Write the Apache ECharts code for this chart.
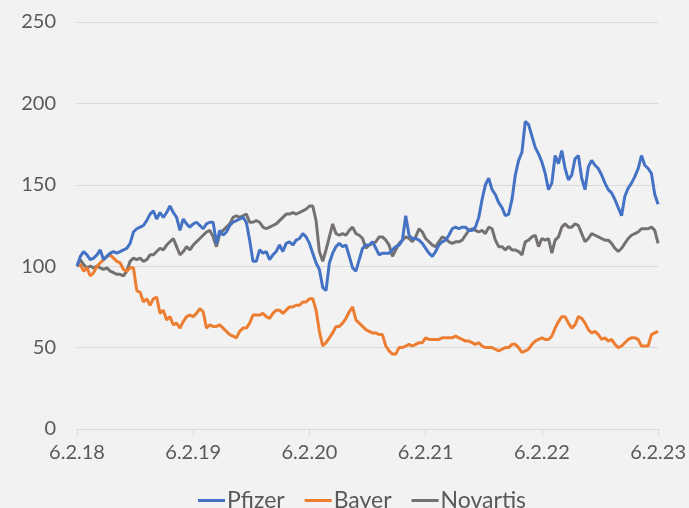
<!DOCTYPE html>
<html>
<head>
<meta charset="utf-8">
<script src="https://cdn.jsdelivr.net/npm/echarts@6/dist/echarts.min.js"></script>
<style>
html,body{margin:0;padding:0;background:#f2f2f2;}
#c{width:689px;height:508px;}
</style>
</head>
<body>
<div id="c"></div>
<script>
// Tick labels of the time axis (one per year, 6 Feb)
var tickLabels = ['6.2.18','6.2.19','6.2.20','6.2.21','6.2.22','6.2.23'];
var seriesNames = ['Pfizer','Bayer','Novartis'];
// Indexed prices (start = 100), sampled evenly from 6.2.18 to 6.2.23
var pfizer = [100,106,109,107,104,105,107,110,104,106,108,109,108,109,110,111,114,121,123,124,
125,128,132,134,129,133,130,133,137,133,130,122,129,126,124,126,127,125,123,126,
127,127,114,122,119,121,125,127,128,129,130,127,116,103,103,110,108,109,104,107,
109,113,109,114,115,113,116,117,120,118,114,108,102,98,87,85,102,108,112,114,
112,113,106,99,97,104,111,113,113,115,111,107,108,108,108,110,112,113,116,131,
119,117,117,116,114,111,108,106,109,113,115,116,119,123,124,123,124,124,122,122,
124,130,141,150,154,147,144,139,136,131,132,141,156,165,170,189,187,180,173,169,
164,157,147,151,168,163,171,160,153,156,166,168,154,147,161,165,162,160,156,151,
147,145,141,136,131,143,148,151,155,160,168,162,160,157,144,138];
var bayer = [100,101,97,99,94,96,100,102,104,106,107,105,103,102,98,97,99,99,85,84,
78,80,76,80,81,71,73,67,69,64,65,62,66,69,70,69,71,74,72,62,
64,63,63,64,62,60,58,57,56,60,62,62,65,70,70,70,71,69,68,71,
73,73,71,73,75,75,76,76,78,78,80,80,73,60,51,53,56,59,63,63,
65,68,72,75,67,65,63,61,60,59,59,58,58,51,48,46,46,50,50,51,
52,51,52,53,53,56,55,55,55,55,56,56,56,56,57,56,55,54,54,53,
52,53,51,50,50,50,49,48,49,50,50,52,52,50,47,48,49,52,54,55,
56,55,55,57,62,66,69,69,65,62,64,69,68,65,61,59,60,58,55,56,
54,55,52,50,51,53,55,56,56,55,51,51,51,58,59,60];
var novartis = [100,104,101,99,100,99,100,99,98,99,97,96,95,95,94,97,103,105,104,105,
103,104,107,107,109,111,110,113,115,117,112,107,109,112,110,113,115,117,119,121,
122,118,112,120,122,124,126,130,131,130,131,132,127,127,128,127,124,123,124,125,
126,128,130,132,132,133,132,133,134,135,137,137,128,109,103,110,118,126,120,119,
120,119,122,124,120,119,117,111,113,114,115,118,118,116,113,106,110,114,116,118,
117,115,118,123,121,117,115,113,112,115,118,117,115,114,115,115,116,119,122,123,
122,121,122,120,124,123,116,112,112,110,112,110,110,109,107,115,116,118,119,112,
117,116,117,108,116,118,124,126,124,124,126,125,120,115,117,120,119,118,117,116,
116,114,111,109,111,114,117,119,120,121,123,123,123,124,122,114];

var years = tickLabels.length - 1;
function toPairs(arr){
  var n = arr.length - 1;
  return arr.map(function(v,i){ return [i*years/n, v]; });
}

var chart = echarts.init(document.getElementById('c'), null, {renderer:'canvas'});
var font = 'Lato, "Noto Sans", sans-serif';
chart.setOption({
  backgroundColor:'#f2f2f2',
  animation:false,
  color:['#4472c4','#ed7d31','#767171'],
  grid:{left:77,right:29,top:22,bottom:79,containLabel:false},
  legend:{
    data:seriesNames,
    left:193, top:484,
    icon:'rect',
    itemWidth:27, itemHeight:3,
    itemGap:20,
    textStyle:{color:'#595959',fontSize:23,fontFamily:font,padding:[0,0,0,-3]}
  },
  xAxis:{
    type:'value', min:0, max:years, interval:1,
    axisLine:{show:true,lineStyle:{color:'#d9d9d9',width:1}},
    axisTick:{show:true,length:6,lineStyle:{color:'#d9d9d9'}},
    splitLine:{show:false},
    axisLabel:{color:'#595959',fontSize:20,fontFamily:font,margin:14,
      formatter:function(v){ return tickLabels[Math.round(v)]; }}
  },
  yAxis:{
    type:'value', min:0, max:250, interval:50,
    axisLine:{show:false}, axisTick:{show:false},
    splitLine:{lineStyle:{color:'#d9d9d9',width:1}},
    axisLabel:{color:'#595959',fontSize:20,fontFamily:font,margin:21}
  },
  series:[
    {name:seriesNames[0],type:'line',data:toPairs(pfizer),showSymbol:false,lineStyle:{width:3},z:3},
    {name:seriesNames[1],type:'line',data:toPairs(bayer),showSymbol:false,lineStyle:{width:3},z:2},
    {name:seriesNames[2],type:'line',data:toPairs(novartis),showSymbol:false,lineStyle:{width:3},z:1}
  ]
});
</script>
</body>
</html>
